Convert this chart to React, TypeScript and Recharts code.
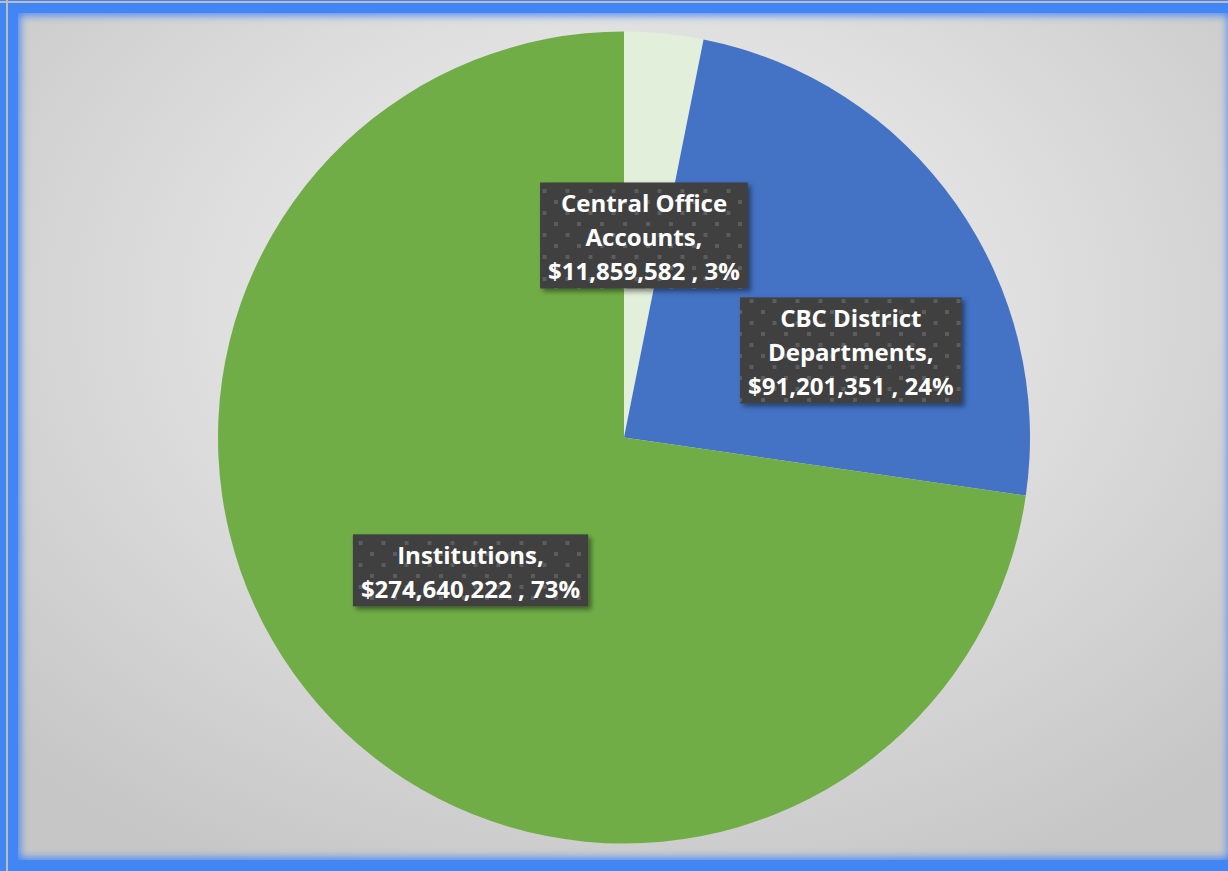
import React from 'react';
import { PieChart, Pie, Cell } from 'recharts';

const CATEGORIES = ['Central Office Accounts', 'CBC District Departments', 'Institutions'];
const AMOUNTS = [11859582, 91201351, 274640222];
const COLORS = ['#E2EFDA', '#4472C4', '#70AD47'];

const data = CATEGORIES.map((name, i) => ({ name, value: AMOUNTS[i] }));

const FONT = "bold 24px 'Open Sans'";
const LINE_H = 34;
const WRAP_W = 215;
// Excel "best fit" moved the middle label off its slice's mid-radius
const LABEL_NUDGE = [[0, 0], [61, 30], [0, 0]];

let ctx: CanvasRenderingContext2D | null = null;
const measure = (s: string) => {
  if (!ctx) ctx = document.createElement('canvas').getContext('2d');
  ctx!.font = FONT;
  return ctx!.measureText(s).width;
};

const wrap = (text: string) => {
  const words = text.split(' ');
  const lines: string[] = [];
  let cur = '';
  words.forEach((w) => {
    const next = cur ? cur + ' ' + w : w;
    if (cur && measure(next) > WRAP_W) {
      lines.push(cur);
      cur = w;
    } else cur = next;
  });
  if (cur) lines.push(cur);
  return lines;
};

const RAD = Math.PI / 180;

const renderLabel = (props: any) => {
  const { cx, cy, midAngle, outerRadius, index, percent, value, name } = props;
  const r = outerRadius * 0.5;
  const x = cx + r * Math.cos(-midAngle * RAD) + LABEL_NUDGE[index][0];
  const y = cy + r * Math.sin(-midAngle * RAD) + LABEL_NUDGE[index][1];
  const lines = [...wrap(name + ','), `$${Number(value).toLocaleString('en-US')} , ${Math.round(percent * 100)}%`];
  const w = Math.max(...lines.map(measure)) + 16;
  const h = lines.length * LINE_H + 4;
  const top = y - h / 2;
  return (
    <g key={`lbl-${index}`}>
      <rect x={x - w / 2} y={top} width={w} height={h} fill="url(#darkDots)" filter="url(#lblShadow)" />
      {lines.map((ln, i) => (
        <text
          key={i}
          x={x}
          y={top + 3 + LINE_H / 2 + i * LINE_H}
          textAnchor="middle"
          dominantBaseline="central"
          fill="#ffffff"
          style={{ font: FONT }}
        >
          {ln}
        </text>
      ))}
    </g>
  );
};

const App: React.FC = () => {
  return (
    <div style={{ position: 'relative', width: 1228, height: 871, background: '#4285F4', overflow: 'hidden' }}>
      <style>{'body{margin:0}'}</style>
      <div style={{ position: 'absolute', left: 0, top: 1, width: 1228, height: 2, background: '#bdbdbd' }} />
      <div style={{ position: 'absolute', left: 6, top: 0, width: 2, height: 871, background: '#bdbdbd' }} />
      <div
        style={{
          position: 'absolute',
          left: 18,
          top: 13,
          width: 1212,
          height: 847,
          background: 'radial-gradient(ellipse 70% 75% at 50% 35%, #ececec 0%, #e0e0e0 45%, #c6c6c6 100%)',
          boxShadow: 'inset 0 0 8px 2px #4285F4',
        }}
      />
      <div style={{ position: 'absolute', left: 0, top: 0 }}>
        <PieChart width={1228} height={871} margin={{ top: 0, right: 0, bottom: 0, left: 0 }}>
          <defs>
            <pattern id="darkDots" width={23} height={22} patternUnits="userSpaceOnUse">
              <rect width={23} height={22} fill="#3f3f3f" />
              <rect x={2} y={2} width={4} height={4} fill="#5c5c5c" />
              <rect x={13.5} y={13} width={4} height={4} fill="#5c5c5c" />
            </pattern>
            <filter id="lblShadow" x="-10%" y="-10%" width="130%" height="140%">
              <feDropShadow dx={3} dy={3} stdDeviation={2.5} floodColor="#000" floodOpacity={0.45} />
            </filter>
          </defs>
          <Pie
            data={data}
            dataKey="value"
            nameKey="name"
            cx={624}
            cy={437.5}
            outerRadius={406}
            startAngle={90}
            endAngle={-270}
            stroke="none"
            labelLine={false}
            label={renderLabel}
            isAnimationActive={false}
          >
            {data.map((d, i) => (
              <Cell key={`cell-${i}`} fill={COLORS[i]} />
            ))}
          </Pie>
        </PieChart>
      </div>
    </div>
  );
};

export default App;
